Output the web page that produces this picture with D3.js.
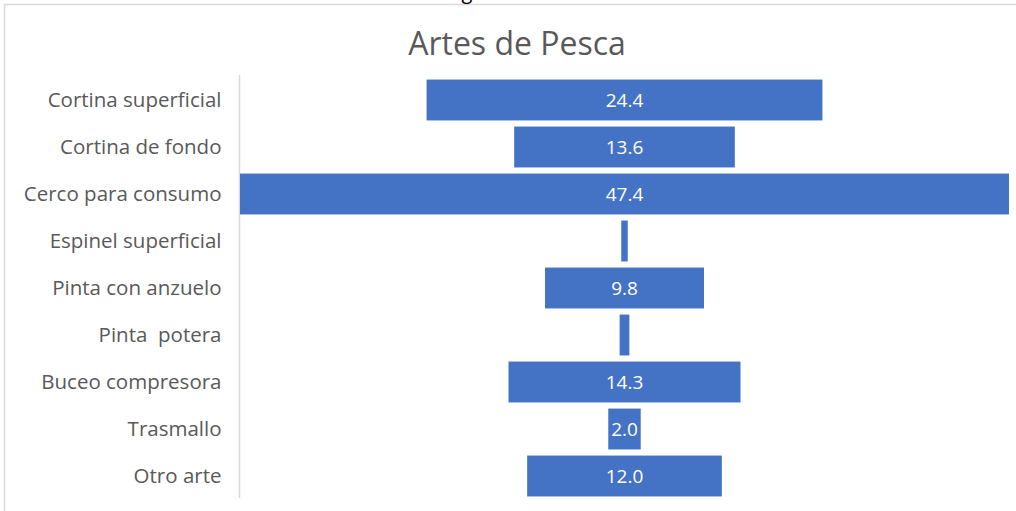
<!DOCTYPE html>
<html>
<head>
<meta charset="utf-8">
<script src="https://cdn.jsdelivr.net/npm/d3@7"></script>
<style>
  html, body { margin: 0; padding: 0; background: #fff; }
  svg { display: block; }
  text { white-space: pre; }
</style>
</head>
<body>
<svg id="chart" width="1016" height="511"></svg>
<script>
// Fishing gear categories and their shares (%)
const categories = [
  "Cortina superficial",
  "Cortina de fondo",
  "Cerco para consumo",
  "Espinel superficial",
  "Pinta con anzuelo",
  "Pinta  potera",
  "Buceo compresora",
  "Trasmallo",
  "Otro arte"
];
const values = [24.4, 13.6, 47.4, 0.4, 9.8, 0.6, 14.3, 2.0, 12.0];
// Value labels shown on the bars (blank where the bar is too thin)
const valueLabels = ["24.4", "13.6", "47.4", "", "9.8", "", "14.3", "2.0", "12.0"];

const titleText = "Artes de Pesca";

const svg = d3.select("#chart");
const W = 1016, H = 511;
const font = "'Open Sans', 'Noto Sans', sans-serif";

// Chart area frame (light grey border)
svg.append("path")
  .attr("d", `M4.5,${H} L4.5,4.5 L${W},4.5`)
  .attr("fill", "none")
  .attr("stroke", "#d9d9d9")
  .attr("stroke-width", 1.5);

// Descender of the caption line above the frame
svg.append("text")
  .attr("x", 467).attr("y", -1)
  .attr("text-anchor", "middle")
  .attr("font-family", font)
  .attr("font-size", 20)
  .attr("fill", "#000")
  .text("g");

const maxV = d3.max(values);
const x = d3.scaleLinear()
  .domain([-maxV / 2, maxV / 2])
  .range([240, 1009]);

const y = d3.scaleBand()
  .domain(categories)
  .range([76.5, 499.5])
  .paddingInner(0.13)
  .paddingOuter(0.065);

// Title
svg.append("text")
  .attr("x", 517).attr("y", 55)
  .attr("text-anchor", "middle")
  .attr("font-family", font)
  .attr("font-size", 32)
  .attr("fill", "#595959")
  .text(titleText);

// Vertical category axis
const axis = d3.axisLeft(y).tickSize(0).tickPadding(18);
const gAxis = svg.append("g")
  .attr("transform", "translate(239.5,0)")
  .call(axis);
gAxis.select(".domain")
  .attr("stroke", "#d9d9d9")
  .attr("stroke-width", 1.5)
  .attr("d", "M0,75V498");
gAxis.selectAll("text")
  .attr("font-family", font)
  .attr("font-size", 20.5)
  .attr("fill", "#595959")
  .style("white-space", "pre");

// Centered bars
const rows = categories.map((c, i) => ({ c, v: values[i], label: valueLabels[i] }));

svg.append("g").selectAll("rect")
  .data(rows)
  .join("rect")
  .attr("x", d => x(-d.v / 2))
  .attr("y", d => y(d.c))
  .attr("width", d => x(d.v / 2) - x(-d.v / 2))
  .attr("height", y.bandwidth())
  .attr("fill", "#4472c4");

// Value labels
svg.append("g").selectAll("text")
  .data(rows.filter(d => d.label))
  .join("text")
  .attr("x", x(0))
  .attr("y", d => y(d.c) + y.bandwidth() / 2)
  .attr("dy", "0.35em")
  .attr("text-anchor", "middle")
  .attr("font-family", font)
  .attr("font-size", 19)
  .attr("fill", "#ffffff")
  .text(d => d.label);
</script>
</body>
</html>
